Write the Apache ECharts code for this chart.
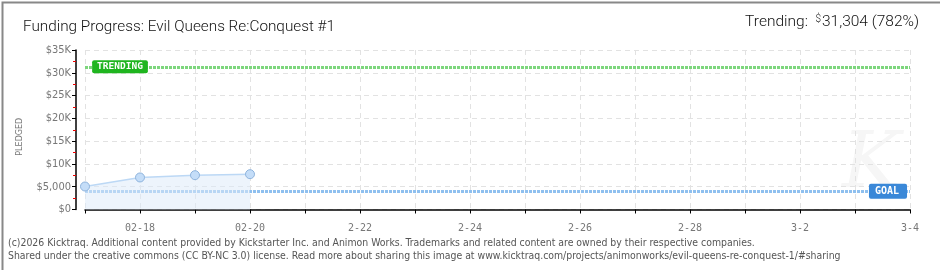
<!DOCTYPE html>
<html><head><meta charset="utf-8">
<script src="https://cdn.jsdelivr.net/npm/echarts@6/dist/echarts.min.js"></script>
<style>html,body{margin:0;padding:0;background:#fff}#c{width:940px;height:270px}</style>
</head><body><div id="c"></div>
<script>
const categories = ['02-17','02-18','02-19','02-20','02-21','02-22','02-23','02-24','02-25','02-26','02-27','02-28','03-01','03-02','03-03','03-04'];
const xTickLabels = ['','02-18','','02-20','','2-22','','2-24','','2-26','','2-28','','3-2','','3-4'];
const pledged = [5050, 7030, 7530, 7750];
const goal = 4000;
const trending = 31304;
const trendingPct = 782;
const yTicks = [0, 5000, 10000, 15000, 20000, 25000, 30000, 35000];
const yTickLabels = ['$0','$5,000','$10K','$15K','$20K','$25K','$30K','$35K'];

const chart = echarts.init(document.getElementById('c'));
const fmtNum = n => n.toString().replace(/\B(?=(\d{3})+(?!\d))/g, ',');
const TF = 'Roboto';
chart.setOption({
  animation: false,
  backgroundColor: '#fff',
  title: {
    text: 'Funding Progress: Evil Queens Re:Conquest #1',
    left: 18, top: 15,
    textStyle: { fontFamily: TF, fontWeight: 300, fontSize: 15.3, color: '#111' }
  },
  graphic: [
    { type: 'text', left: 842, top: 128, z: 0, silent: true, style: { text: 'K', fontFamily: 'DejaVu Serif', fontStyle: 'italic', fontSize: 78, fill: '#f6f6f6' } },
    { type: 'rect', left: 0, top: 0, shape: { width: 939, height: 269 }, style: { fill: 'none', stroke: '#888', lineWidth: 2 }, silent: true },
    { type: 'text', right: 21, top: 14, style: {
        text: '{l|Trending:  }{d|$}{v|' + fmtNum(trending) + ' (' + trendingPct + '%)}',
        rich: {
          l: { fontFamily: TF, fontWeight: 300, fontSize: 15.5, fill: '#111' },
          d: { fontFamily: TF, fontWeight: 300, fontSize: 10, fill: '#111', verticalAlign: 'top', padding: [0,1,6,0] },
          v: { fontFamily: TF, fontWeight: 300, fontSize: 15.5, fill: '#111' }
        } } },
    { type: 'text', left: 8, top: 237, style: {
        text: '(c)2026 Kicktraq. Additional content provided by Kickstarter Inc. and Animon Works. Trademarks and related content are owned by their respective companies.\nShared under the creative commons (CC BY-NC 3.0) license. Read more about sharing this image at www.kicktraq.com/projects/animonworks/evil-queens-re-conquest-1/#sharing',
        fontFamily: 'DejaVu Sans Condensed', fontSize: 10.4, lineHeight: 13, fill: '#555' } }
  ],
  grid: { left: 85, right: 30, top: 50, bottom: 60.5 },
  xAxis: {
    type: 'category', data: categories, boundaryGap: false, offset: 10,
    axisLine: { lineStyle: { color: '#000', width: 1.5 } },
    axisTick: { show: true, interval: 0, length: 4, inside: false, lineStyle: { color: '#000' } },
    axisLabel: { interval: 0, formatter: (v, i) => xTickLabels[i], color: '#777', fontSize: 10, fontFamily: 'DejaVu Sans Mono', margin: 4 },
    splitLine: { show: true, interval: 0, lineStyle: { color: '#e2e2e2', type: [5, 4] } }
  },
  yAxis: {
    type: 'value', min: 0, max: 35000, interval: 5000, offset: 9,
    name: 'PLEDGED', nameLocation: 'middle', nameGap: 52, nameRotate: 90,
    nameTextStyle: { color: '#777', fontSize: 8, fontFamily: 'DejaVu Sans', padding: [0,0,0,-14] },
    axisLine: { show: true, lineStyle: { color: '#000', width: 1.5 } },
    axisTick: { show: true, length: 4, lineStyle: { color: '#000' } },
    minorTick: { show: true, splitNumber: 2, length: 3, lineStyle: { color: '#e00' } },
    axisLabel: { color: '#777', fontSize: 11, fontFamily: 'DejaVu Sans Condensed', margin: 5,
      formatter: v => yTickLabels[yTicks.indexOf(v)] },
    splitLine: { show: true, lineStyle: { color: '#e2e2e2', type: [5, 4] } }
  },
  series: [
    {
      type: 'line', data: pledged, symbol: 'circle', symbolSize: 9, z: 5,
      lineStyle: { color: '#bcd8f5', width: 1.5 },
      itemStyle: { color: '#c4ddf8', borderColor: '#8fb4dd', borderWidth: 1 },
      areaStyle: { color: 'rgba(220,234,250,0.75)' }
    },
    {
      type: 'line', data: [], z: 4,
      markLine: {
        silent: true, symbol: 'none', label: { show: false },
        data: [
          { yAxis: trending, lineStyle: { color: '#7dd67d', width: 3, type: [3, 1] } },
          { yAxis: goal, lineStyle: { color: '#8fc0ef', width: 3, type: [3, 1] } }
        ]
      },
      markPoint: {
        silent: true, symbol: 'rect', symbolSize: 0,
        data: [
          { coord: [categories[0], trending], label: { show: true, formatter: 'TRENDING', offset: [35, 0], color: '#fff', backgroundColor: '#1fb51f', borderRadius: 2, padding: [2, 5, 1, 5], fontSize: 9.5, fontFamily: 'DejaVu Sans Mono', fontWeight: 'bold' } },
          { coord: [categories[categories.length - 1], goal], label: { show: true, formatter: 'GOAL', offset: [-22, 0], color: '#fff', backgroundColor: '#3a88d8', borderRadius: 2, padding: [3, 8, 2, 6], fontSize: 10, fontFamily: 'DejaVu Sans Mono', fontWeight: 'bold' } }
        ]
      }
    }
  ]
});
</script></body></html>
